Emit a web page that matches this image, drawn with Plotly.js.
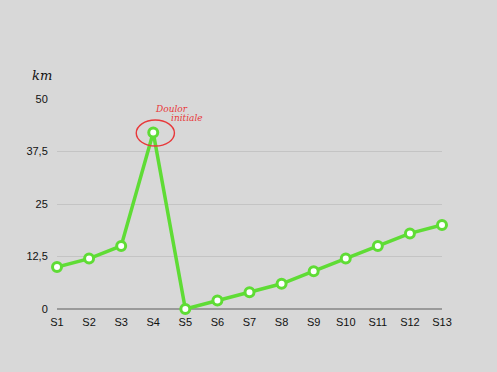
<!DOCTYPE html>
<html><head><meta charset="utf-8">
<script src="https://cdn.plot.ly/plotly-3.0.1.min.js"></script>
<style>html,body{margin:0;padding:0;background:#d8d8d8;}#c{width:497px;height:372px;}</style>
</head><body><div id="c"></div>
<script>
const categories = ["S1","S2","S3","S4","S5","S6","S7","S8","S9","S10","S11","S12","S13"];
const values = [10,12,15,42,0,2,4,6,9,12,15,18,20];
const yTickVals = [0,12.5,25,37.5,50];
const yTickText = ["0","12,5","25","37,5","50"];
const xIdx = categories.map((_, i) => i);

const trace = {
  x: xIdx, y: values, type: 'scatter', mode: 'lines+markers',
  line: {color: '#5fdc35', width: 3.5},
  marker: {color: '#ffffff', size: 9, line: {color: '#5fdc35', width: 3}},
  cliponaxis: false, hoverinfo: 'none'
};

const layout = {
  width: 497, height: 372,
  margin: {l: 57, r: 55, t: 99, b: 63},
  paper_bgcolor: '#d8d8d8', plot_bgcolor: '#d8d8d8',
  showlegend: false,
  font: {family: 'Liberation Sans, Arial, sans-serif', size: 11, color: '#111'},
  xaxis: {
    range: [0, 12], tickvals: xIdx, ticktext: categories,
    showgrid: false, zeroline: false, showline: false, ticks: '', fixedrange: true,
    ticklabelstandoff: 5,
    tickfont: {size: 11, color: '#111'}
  },
  yaxis: {
    range: [0, 50], tickvals: yTickVals, ticktext: yTickText,
    showgrid: true, gridcolor: '#c4c4c4', gridwidth: 1,
    zeroline: true, zerolinecolor: '#9a9a9a', zerolinewidth: 1.5,
    showline: false, ticks: 'outside', ticklen: 6, tickcolor: 'rgba(0,0,0,0)',
    tickfont: {size: 11, color: '#111'}
  },
  shapes: [{
    type: 'circle', xref: 'x', yref: 'y',
    x0: 2.47, x1: 3.66, y0: 38.8, y1: 45.0,
    line: {color: '#e8383a', width: 1.4}
  }],
  annotations: [
    {xref: 'paper', yref: 'paper', x: -0.039, y: 1.114, xanchor: 'center', yanchor: 'middle',
     text: 'km', showarrow: false,
     font: {family: 'DejaVu Serif, serif', size: 13, color: '#111', style: 'italic'}},
    {xref: 'x', yref: 'y', x: 3.0, y: 47.6, xanchor: 'left', yanchor: 'middle',
     text: 'Doulor', showarrow: false,
     font: {family: 'DejaVu Serif, serif', size: 9, color: '#e8383a', style: 'italic'}},
    {xref: 'x', yref: 'y', x: 3.5, y: 45.4, xanchor: 'left', yanchor: 'middle',
     text: 'initiale', showarrow: false,
     font: {family: 'DejaVu Serif, serif', size: 9, color: '#e8383a', style: 'italic'}}
  ]
};

Plotly.newPlot('c', [trace], layout, {displayModeBar: false, staticPlot: true});
</script>
</body></html>
